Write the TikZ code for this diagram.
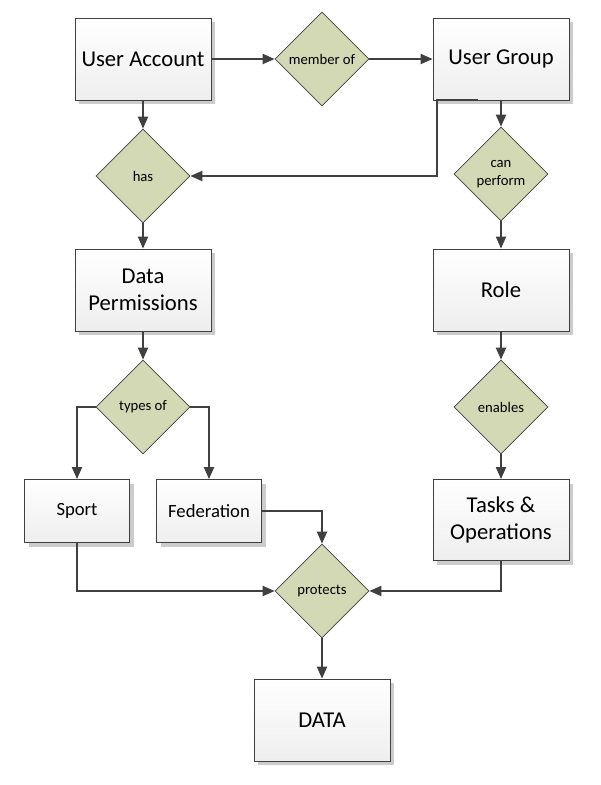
\documentclass[tikz,border=0pt]{standalone}
\usepackage{fontspec}
\setmainfont{Carlito}
\usetikzlibrary{shapes.geometric,arrows.meta,shadows}
\definecolor{lineg}{HTML}{404040}
\definecolor{dfill}{HTML}{D3D9B5}
\definecolor{boxbot}{HTML}{EEEEEE}
\tikzset{
  ebox/.style={rectangle, draw=lineg, line width=0.6pt, top color=white, bottom color=boxbot,
    minimum width=102pt, minimum height=61.5pt, align=center, inner sep=2pt,
    font=\fontsize{17}{20.5}\selectfont,
    drop shadow={shadow xshift=3pt, shadow yshift=-3pt, fill=black!20, opacity=1}},
  sbox/.style={ebox, minimum width=78.75pt, minimum height=47.25pt, font=\fontsize{14}{16}\selectfont},
  rel/.style={diamond, draw=lineg, line width=0.5pt, fill=dfill, minimum width=70.5pt, minimum height=70.5pt,
    aspect=1, inner sep=0pt, align=center, font=\fontsize{11}{13.5}\selectfont},
  conn/.style={draw=lineg, line width=1.5pt, -{Triangle[length=9pt,width=7.5pt]}},
  plain/.style={draw=lineg, line width=1.5pt}
}
\begin{document}
\begin{tikzpicture}[x=0.75pt,y=-0.75pt]
\useasboundingbox (0,0) rectangle (600,785);
\node[ebox] (ua) at (143,59) {User Account};
\node[rel] (mem) at (322,59) {member of};
\node[ebox] (ug) at (501,59) {User Group};
\node[rel] (has) at (143,176) {has};
\node[rel] (can) at (501,174) {can\\perform};
\node[ebox] (dp) at (143,290) {Data\\Permissions};
\node[ebox] (role) at (501,290) {Role};
\node[rel] (typ) at (143,407) {types of};
\node[rel] (ena) at (501,407) {enables};
\node[sbox] (sport) at (77,511) {Sport};
\node[sbox] (fed) at (209,511) {Federation};
\node[ebox, minimum height=60.75pt] (tasks) at (501,520) {Tasks \&\\Operations};
\node[rel] (prot) at (322,591) {protects};
\node[ebox] (data) at (322,720) {DATA};
\coordinate (ugx) at (478,100);

\draw[conn] (ua) -- (mem);
\draw[conn] (mem) -- (ug);
\draw[conn] (ua) -- (has);
\draw[conn] (ugx) -- ++(-41,0) |- (has.east);
\draw[conn] (ug) -- (can);
\draw[conn] (has) -- (dp);
\draw[conn] (can) -- (role);
\draw[conn] (dp) -- (typ);
\draw[conn] (role) -- (ena);
\draw[conn] (typ.west) -| (sport.north);
\draw[conn] (typ.east) -| (fed.north);
\draw[conn] (ena) -- (tasks);
\draw[conn] (fed.east) -| (prot.north);
\draw[conn] (sport.south) |- (prot.west);
\draw[conn] (tasks.south) |- (prot.east);
\draw[conn] (prot) -- (data);
\end{tikzpicture}
\end{document}
